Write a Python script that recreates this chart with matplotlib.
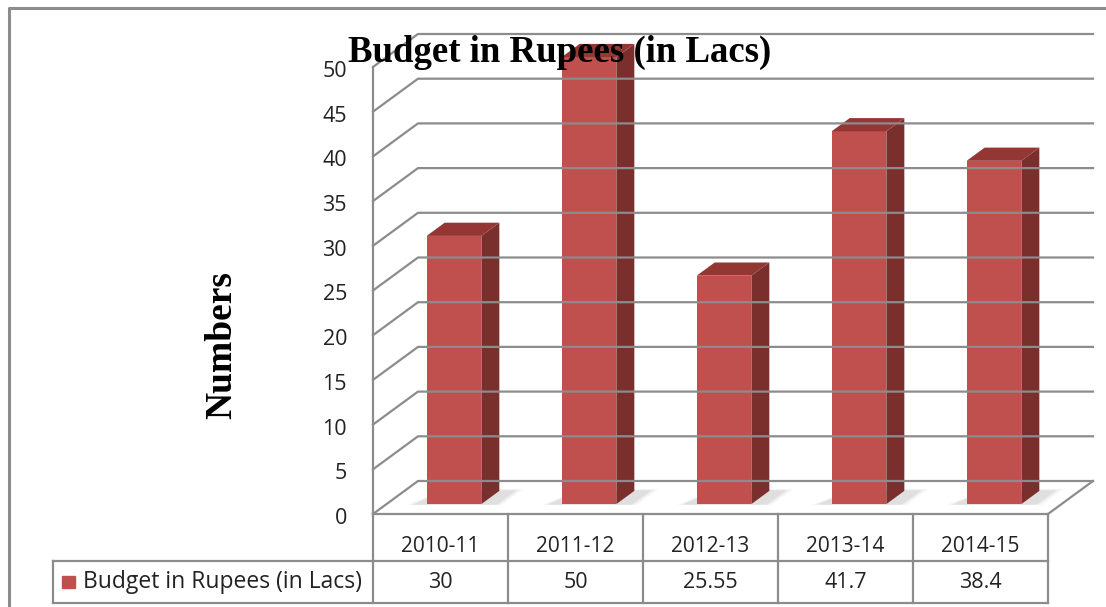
import matplotlib
matplotlib.use("Agg")
import matplotlib.pyplot as plt
import matplotlib.transforms as mtransforms
from matplotlib.patches import Polygon, Rectangle
from matplotlib.lines import Line2D
from matplotlib.transforms import IdentityTransform, blended_transform_factory

years = ['2010-11', '2011-12', '2012-13', '2013-14', '2014-15']
budget = [30, 50, 25.55, 41.7, 38.4]
series_name = 'Budget in Rupees (in Lacs)'
yticks = list(range(0, 55, 5))

W, H = 1106, 607
fig = plt.figure(figsize=(W / 100, H / 100), dpi=100)
ax = fig.add_axes([373 / W, 93 / H, 675 / W, 447 / H])
ax.set_xlim(-0.5, 4.5)
ax.set_ylim(0, 50)
ax.axis('off')

DX, DY = 45, 33          # full depth of the 3d box, pixels
grid_c = '#8c8c8c'
front_c, side_c, top_c = '#c0504d', '#7b2f2d', '#943634'
sans = 'Open Sans'
serif = 'Liberation Serif'


def proj(x, y, d=0.0):
    # data point on the front plane, pushed back by depth fraction d
    px, py = ax.transData.transform((x, y))
    return (px + d * DX, py + d * DY)


def poly(pts, **kw):
    fig.add_artist(Polygon(pts, closed=True, transform=IdentityTransform(), **kw))


def line(pts, **kw):
    xs, ys = zip(*pts)
    fig.add_artist(Line2D(xs, ys, transform=IdentityTransform(), **kw))


# walls / gridlines
for v in yticks:
    line([proj(-0.5, v), proj(-0.5, v, 1), proj(4.5, v, 1)], color=grid_c, lw=1.6)
line([proj(-0.5, 0), proj(-0.5, 50)], color=grid_c, lw=1.6)
line([proj(-0.5, 0), proj(4.5, 0), proj(4.5, 0, 1)], color=grid_c, lw=1.6)

# bars
w = 0.405
f0, f1 = 0.30, 0.70
for i, v in enumerate(budget):
    l, r = i - w / 2, i + w / 2
    # soft shadow on the floor
    for k, a in enumerate([0.06, 0.08, 0.12]):
        e = 0.06 - k * 0.02
        poly([proj(l - 0.08 - e, 0, f0 - 0.02), proj(r + 0.1 + e, 0, f0 - 0.02),
              proj(r + 0.1 + e, 0, f1 + e), proj(l, 0, f1 + e)],
             facecolor='#808080', edgecolor='none', alpha=a)
    poly([proj(l, 0, f0), proj(r, 0, f0), proj(r, v, f0), proj(l, v, f0)],
         facecolor=front_c, edgecolor='none')
    poly([proj(r, 0, f0), proj(r, 0, f1), proj(r, v, f1), proj(r, v, f0)],
         facecolor=side_c, edgecolor='none')
    poly([proj(l, v, f0), proj(r, v, f0), proj(r, v, f1), proj(l, v, f1)],
         facecolor=top_c, edgecolor='none')

# y tick labels, nudged left of the axis
off = mtransforms.ScaledTranslation(-0.26, 0, fig.dpi_scale_trans)
for v in yticks:
    ax.text(-0.5, v - 0.5, str(v), transform=ax.transData + off, ha='right',
            va='center', fontsize=15.5, family=sans, color='#222222', clip_on=False)

# data table
bt = blended_transform_factory(ax.transData, fig.transFigure)
fy = lambda p: (H - p) / H
for k in range(6):
    fig.add_artist(Line2D([k - 0.5, k - 0.5], [fy(514), fy(603)], transform=bt,
                          color=grid_c, lw=1.6))
fig.add_artist(Line2D([53 / W, 53 / W], [fy(561), fy(603)], color=grid_c, lw=1.6))
for yy in (561, 603):
    fig.add_artist(Line2D([53 / W, 1048 / W], [fy(yy), fy(yy)], color=grid_c, lw=1.6))
for i, (yr, v) in enumerate(zip(years, budget)):
    fig.text(i, fy(547), yr, transform=bt, ha='center', va='center',
             fontsize=15, family=sans, color='#222222')
    fig.text(i, fy(582), f'{v:g}', transform=bt, ha='center', va='center',
             fontsize=15.5, family=sans, color='#222222')
fig.add_artist(Rectangle((62 / W, fy(588)), 13 / W, 12 / H, color=front_c))
fig.text(83 / W, fy(582), series_name, ha='left', va='center',
         fontsize=16.5, family=sans, color='#222222')

# titles
fig.text(560 / W, fy(52), 'Budget in Rupees (in Lacs)', ha='center', va='center',
         fontsize=26.5, fontweight='bold', family=serif)
fig.text(222 / W, fy(345), 'Numbers', ha='center', va='center', rotation=90,
         fontsize=27, fontweight='bold', family=serif)

# outer frame
fig.add_artist(Line2D([9 / W, 9 / W, 1.0], [0.0, fy(8), fy(8)], color='#8c8c8c', lw=2.2))

fig.savefig('out.png', dpi=100)
